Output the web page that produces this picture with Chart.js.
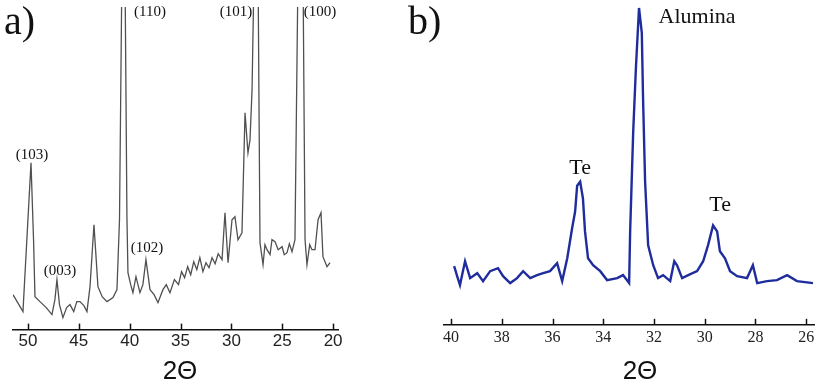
<!DOCTYPE html>
<html>
<head>
<meta charset="utf-8">
<script src="https://cdn.jsdelivr.net/npm/chart.js@4"></script>
<style>
  body { margin: 0; background: #fff; }
  #wrap { position: relative; width: 832px; height: 384px; overflow: hidden; }
  .box { position: absolute; top: 0; height: 384px; }
  .tag { position: absolute; font-family: "Liberation Serif", serif; font-size: 40px; line-height: 1; color: #111; }
  .xt { position: absolute; font-family: "Liberation Sans", Arial, sans-serif; font-size: 26px; line-height: 1; color: #111; transform: translate(-50%, -50%); }
</style>
</head>
<body>
<div id="wrap">
  <div class="box" style="left:0;width:360px"><canvas id="chartA"></canvas></div>
  <div class="box" style="left:400px;width:432px"><canvas id="chartB"></canvas></div>
  <div class="tag" style="left:4px;top:1px">a)</div>
  <div class="tag" style="left:408px;top:1px">b)</div>
  <div class="xt" style="left:180px;top:370px">2Θ</div>
  <div class="xt" style="left:640px;top:370px">2Θ</div>
</div>
<script>
// panel a: 2theta (deg) and intensity (arb.)
const angleA = [
  51.47, 50.49, 49.95, 49.7, 49.45, 49.31, 48.82, 48.2, 47.64, 47.35,
  47.15, 46.9, 46.56, 46.2, 45.87, 45.5, 45.2, 44.89, 44.5, 44.2,
  43.9, 43.51, 43.12, 42.7, 42.23, 41.64, 41.25, 41.0, 40.76, 40.46,
  40.27, 40.17, 39.9, 39.68, 39.38, 38.99, 38.7, 38.4, 38.0, 37.6,
  37.22, 36.73, 36.4, 36.04, 35.6, 35.2, 34.9, 34.6, 34.3, 34.0,
  33.7, 33.4, 33.1, 32.8, 32.5, 32.2, 31.9, 31.6, 31.3, 30.92,
  30.63, 30.33, 29.94, 29.65, 29.35, 28.96, 28.66, 28.37, 28.17, 27.97,
  27.77, 27.38, 27.19, 26.89, 26.7, 26.5, 26.2, 26.01, 25.71, 25.4,
  25.02, 24.8, 24.53, 24.3, 24.04, 23.75, 23.45, 22.96, 22.76, 22.57,
  22.3, 22.08, 21.78, 21.48, 21.19, 21.0, 20.6, 20.3
];
const intensityA = [
  35, 18, 120, 167, 90, 33, 28, 22, 15, 30,
  50, 25, 12, 22, 25, 18, 28, 28, 24, 18,
  43, 105, 43, 33, 28, 32, 40, 110, 360, 360,
  113, 57, 45, 37, 53, 37, 45, 70, 40, 35,
  27, 40, 45, 37, 50, 45, 58, 52, 63, 55,
  68, 60, 72, 58, 67, 62, 72, 66, 76, 70,
  117, 67, 110, 113, 90, 97, 217, 177, 190, 240,
  360, 360, 87, 65, 85, 80, 75, 90, 88, 80,
  83, 75, 77, 86, 78, 90, 360, 360, 90, 65,
  85, 80, 80, 110, 117, 73, 63, 67
];
const ticksA = [50, 45, 40, 35, 30, 25, 20];
const peakTextA = ["(103)", "(003)", "(110)", "(102)", "(101)", "(100)"];
const peakAngleA = [49.6, 46.85, 38.0, 38.3, 29.55, 21.3];
const peakLevelA = [175, 59, 318, 82, 318, 318];

// panel b
const angleB = [
  39.88, 39.75, 39.65, 39.45, 39.25, 38.97, 38.74, 38.46, 38.15, 37.95,
  37.67, 37.4, 37.16, 36.88, 36.61, 36.37, 36.1, 35.82, 35.62, 35.42,
  35.23, 35.11, 35.03, 34.91, 34.8, 34.72, 34.6, 34.4, 34.12, 33.85,
  33.45, 33.22, 32.98, 32.94, 32.82, 32.71, 32.59, 32.48, 32.43, 32.35,
  32.23, 32.03, 31.84, 31.64, 31.36, 31.2, 31.09, 30.89, 30.65, 30.3,
  30.06, 29.87, 29.67, 29.51, 29.4, 29.2, 29.0, 28.72, 28.33, 28.1,
  27.93, 27.54, 27.15, 26.75, 26.36, 25.73
];
const intensityB = [
  59, 48, 40, 64, 47, 52, 44, 54, 57, 49,
  42, 47, 54, 47, 50, 52, 54, 62, 44, 67,
  97, 114, 140, 144, 127, 94, 67, 60, 54, 45,
  47, 50, 42, 94, 194, 260, 319, 294, 227, 144,
  80, 60, 47, 50, 44, 64, 60, 47, 50, 54,
  64, 80, 100, 94, 74, 67, 54, 49, 47, 60,
  42, 44, 45, 50, 44, 42
];
const ticksB = [40, 38, 36, 34, 32, 30, 28, 26];
const peakTextB = ["Alumina", "Te", "Te"];
const peakAngleB = [30.3, 34.91, 29.39];
const peakLevelB = [310, 158, 120];

// draws inward tick marks and the peak labels
const marks = {
  id: "marks",
  afterDraw(chart, args, opts) {
    const ctx = chart.ctx;
    const x = chart.scales.x, y = chart.scales.y;
    const bottom = chart.chartArea.bottom;
    ctx.save();
    ctx.strokeStyle = "#111";
    ctx.lineWidth = 1.5;
    x.ticks.forEach(t => {
      const px = Math.round(x.getPixelForValue(t.value)) + 0.5;
      ctx.beginPath();
      ctx.moveTo(px, bottom);
      ctx.lineTo(px, bottom - opts.tickLen);
      ctx.stroke();
    });
    ctx.fillStyle = "#111";
    ctx.font = opts.font;
    ctx.textAlign = "center";
    ctx.textBaseline = "middle";
    opts.text.forEach((s, i) => {
      ctx.fillText(s, x.getPixelForValue(opts.at[i]), y.getPixelForValue(opts.level[i]));
    });
    ctx.restore();
  }
};

function makeChart(id, angles, vals, tickVals, color, width, range, ymax, pad, tickFont, tickPad, labels) {
  return new Chart(document.getElementById(id), {
    type: "line",
    data: {
      datasets: [{
        data: angles.map((a, i) => ({ x: a, y: vals[i] })),
        borderColor: color,
        borderWidth: width,
        pointRadius: 0,
        tension: 0,
        fill: false
      }]
    },
    options: {
      responsive: true,
      maintainAspectRatio: false,
      animation: false,
      layout: { padding: pad },
      plugins: { legend: { display: false }, tooltip: { enabled: false }, marks: labels },
      scales: {
        x: {
          type: "linear",
          reverse: true,
          min: range[0],
          max: range[1],
          afterBuildTicks: s => { s.ticks = tickVals.map(v => ({ value: v })); },
          grid: { display: false, drawTicks: false },
          border: { display: true, color: "#111", width: 1.5 },
          ticks: { color: "#222", font: tickFont, padding: tickPad, maxRotation: 0, autoSkip: false }
        },
        y: { display: false, min: 0, max: ymax }
      }
    },
    plugins: [marks]
  });
}

makeChart("chartA", angleA, intensityA, ticksA, "#505050", 1.3, [19.52, 51.47], 323,
  { left: 13, right: 22, top: 7, bottom: 30 },
  { family: "'Liberation Sans', Arial", size: 17 }, 2,
  { tickLen: 6, font: "15px 'Liberation Serif'", text: peakTextA, at: peakAngleA, level: peakLevelA });

makeChart("chartB", angleB, intensityB, ticksB, "#1f2c9c", 2.4, [25.69, 40.28], 327,
  { left: 44, right: 18, top: 0, bottom: 34 },
  { family: "'Liberation Serif', serif", size: 16 }, 3,
  { tickLen: 6, font: "22px 'Liberation Serif'", text: peakTextB, at: peakAngleB, level: peakLevelB });
</script>
</body>
</html>
